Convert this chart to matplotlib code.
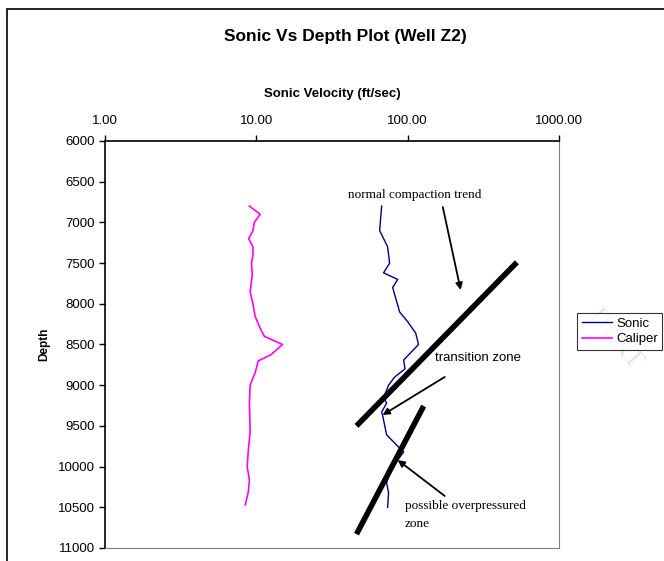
import matplotlib
matplotlib.use('Agg')
import matplotlib.pyplot as plt
from matplotlib.patches import Rectangle

# sonic log readings (depth ft, velocity)
sonic_depth = [6800, 7100, 7300, 7500, 7620, 7700, 7800, 8100, 8220, 8360, 8500,
               8690, 8800, 8900, 9000, 9150, 9220, 9330, 9370, 9610, 9760, 9820,
               9920, 10080, 10200, 10320, 10500]
sonic_val = [67.3, 65.3, 73.7, 76.0, 69.3, 85.9, 79.6, 88.5, 100.0, 113.0, 118.0,
             94.1, 96.0, 82.0, 74.8, 69.4, 72.6, 67.3, 68.3, 72.6, 87.2, 94.1,
             85.9, 76.0, 72.6, 74.8, 73.7]

# caliper readings
cal_depth = [6800, 6900, 7000, 7100, 7200, 7300, 7400, 7500, 7650, 7850, 8000,
             8150, 8300, 8400, 8500, 8630, 8700, 8840, 9000, 9220, 9575, 9800,
             10000, 10165, 10310, 10470]
cal_val = [9.0, 10.6, 9.7, 9.5, 8.9, 9.5, 9.5, 9.3, 9.4, 9.1, 9.5,
           9.8, 10.6, 11.3, 14.9, 12.4, 10.3, 9.85, 9.1, 9.0, 9.1, 8.85,
           8.7, 9.0, 8.85, 8.45]

# hand drawn trend lines
trend1_x = [45.9, 527.0]
trend1_d = [9500, 7490]
trend2_x = [45.9, 127.6]
trend2_d = [10830, 9256]

# arrows (start, tip)
arr_x = [(170.6, 224.0), (175.8, 68.3), (175.8, 85.9)]
arr_d = [(6811, 7830), (8899, 9366), (10361, 9919)]

xticks = [1, 10, 100, 1000]
xticklabels = ['1.00', '10.00', '100.00', '1000.00']
yticks = list(range(6000, 11001, 500))

W, H = 664, 561
fig = plt.figure(figsize=(W / 100, H / 100), dpi=100)
ax = fig.add_axes([105 / W, 1 - 548 / H, (559 - 105) / W, (548 - 141) / H])

sans = 'Liberation Sans'
serif = 'Liberation Serif'

l1, = ax.plot(sonic_val, sonic_depth, color='#000080', lw=1.0, label='Sonic')
l2, = ax.plot(cal_val, cal_depth, color='#FF00FF', lw=1.2, label='Caliper')
ax.plot(trend1_x, trend1_d, color='k', lw=4, solid_capstyle='butt')
ax.plot(trend2_x, trend2_d, color='k', lw=4, solid_capstyle='butt')

for (x0, x1), (d0, d1) in zip(arr_x, arr_d):
    ax.annotate('', xy=(x1, d1), xytext=(x0, d0),
                arrowprops=dict(arrowstyle='-|>', color='k', lw=1.3,
                                mutation_scale=10, shrinkA=0, shrinkB=0))

ax.set_xscale('log')
ax.set_xlim(1, 1000)
ax.set_ylim(11000, 6000)
ax.xaxis.tick_top()
ax.xaxis.set_label_position('top')
ax.set_xticks(xticks)
ax.set_xticklabels(xticklabels)
ax.minorticks_off()
ax.set_yticks(yticks)
ax.tick_params(axis='both', direction='out', length=4, width=1, labelsize=9.5, pad=3)
for lab in ax.get_xticklabels() + ax.get_yticklabels():
    lab.set_fontfamily(sans)
ax.tick_params(axis='x', pad=6)

ax.spines['top'].set_color('k')
ax.spines['left'].set_color('k')
ax.spines['top'].set_linewidth(1.2)
ax.spines['left'].set_linewidth(1.2)
ax.spines['right'].set_color('#808080')
ax.spines['bottom'].set_color('#808080')

ax.set_xlabel('Sonic Velocity (ft/sec)', fontfamily=sans, fontweight='bold',
              fontsize=9.5, labelpad=13)
ax.set_ylabel('Depth', fontfamily=sans, fontweight='bold', fontsize=8.5, labelpad=6)

fig.text(345 / W, 1 - 37 / H, 'Sonic Vs Depth Plot (Well Z2)', ha='center', va='center',
         fontfamily=sans, fontweight='bold', fontsize=12.5)

fig.text(415 / W, 1 - 195 / H, 'normal compaction trend', ha='center', va='center',
         fontfamily=serif, fontsize=9.5)
fig.text(435 / W, 1 - 358 / H, 'transition zone', ha='left', va='center',
         fontfamily=sans, fontsize=9.5)
fig.text(405 / W, 1 - 515 / H, 'possible overpressured\nzone', ha='left', va='center',
         fontfamily=serif, fontsize=9.5, linespacing=1.6)

# faint watermark
fig.text(615 / W, 1 - 340 / H, 'IJERT', ha='center', va='center', rotation=-50,
         fontfamily=serif, fontsize=20, color='#e6e6e6', zorder=0)

leg = fig.legend(handles=[l1, l2], loc='upper left',
                 bbox_to_anchor=(577 / W, 1 - 313 / H), prop={'family': sans, 'size': 9.5},
                 frameon=True, fancybox=False, edgecolor='k', handlelength=2.3,
                 handletextpad=0.3, borderpad=0.35, labelspacing=0.25, borderaxespad=0)
leg.get_frame().set_linewidth(0.8)

# outer chart frame
fig.add_artist(Rectangle((7 / W, -0.2), 1.2, 1 - 9 / H + 0.2, transform=fig.transFigure,
                         fill=False, edgecolor='k', lw=1.2))

fig.savefig('out.png', dpi=100)
